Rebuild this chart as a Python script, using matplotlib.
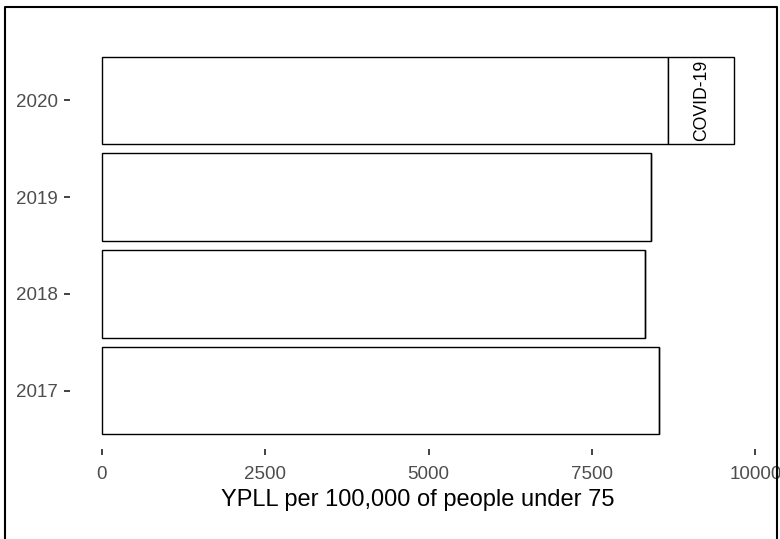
import matplotlib.pyplot as plt
from matplotlib.lines import Line2D

# data
years = ['2017', '2018', '2019', '2020']
ypll_other = [8531, 8317, 8398, 8664]
ypll_covid = [0, 0, 0, 1014]
covid_label = 'COVID-19'

plt.rcParams['font.family'] = ['Liberation Sans', 'DejaVu Sans']

fig = plt.figure(figsize=(7.8, 5.39), dpi=100)
ax = fig.add_axes([70 / 780, 1 - 449 / 539, (766 - 70) / 780, (449 - 42) / 539])

pos = list(range(len(years)))
ax.barh(pos, ypll_other, height=0.9, color='white', edgecolor='black', linewidth=1.0)
ax.barh(pos, ypll_covid, left=ypll_other, height=0.9, color='white',
        edgecolor='black', linewidth=1.0)

# label the covid segment
for i, c in enumerate(ypll_covid):
    if c > 0:
        ax.text(ypll_other[i] + c / 2, pos[i], covid_label, rotation=90,
                ha='center', va='center', fontsize=12.7, color='black')

totals = [a + b for a, b in zip(ypll_other, ypll_covid)]
top = max(totals)
ax.set_xlim(-0.05 * top, top * 1.05)
ax.set_ylim(-0.6, len(years) - 0.4)

ax.set_yticks(pos)
ax.set_yticklabels(years)
ax.set_xticks([0, 2500, 5000, 7500, 10000])
ax.set_xticklabels(['0', '2500', '5000', '7500', '10000'])
ax.tick_params(axis='both', labelsize=13.5, labelcolor='#4D4D4D', color='#333333',
               length=4.5, width=1.3)
ax.tick_params(axis='x', pad=8)
ax.tick_params(axis='y', pad=4)
for s in ax.spines.values():
    s.set_visible(False)

ax.set_xlabel('YPLL per 100,000 of people under 75', fontsize=17, color='black', labelpad=4)

# outer frame (bottom edge cropped off in the reference)
fx = [5 / 780, 5 / 780, 777 / 780, 777 / 780]
fy = [0, 1 - 7 / 539, 1 - 7 / 539, 0]
fig.add_artist(Line2D(fx, fy, transform=fig.transFigure, color='black', linewidth=1.5))

fig.savefig('out.png', dpi=100)
